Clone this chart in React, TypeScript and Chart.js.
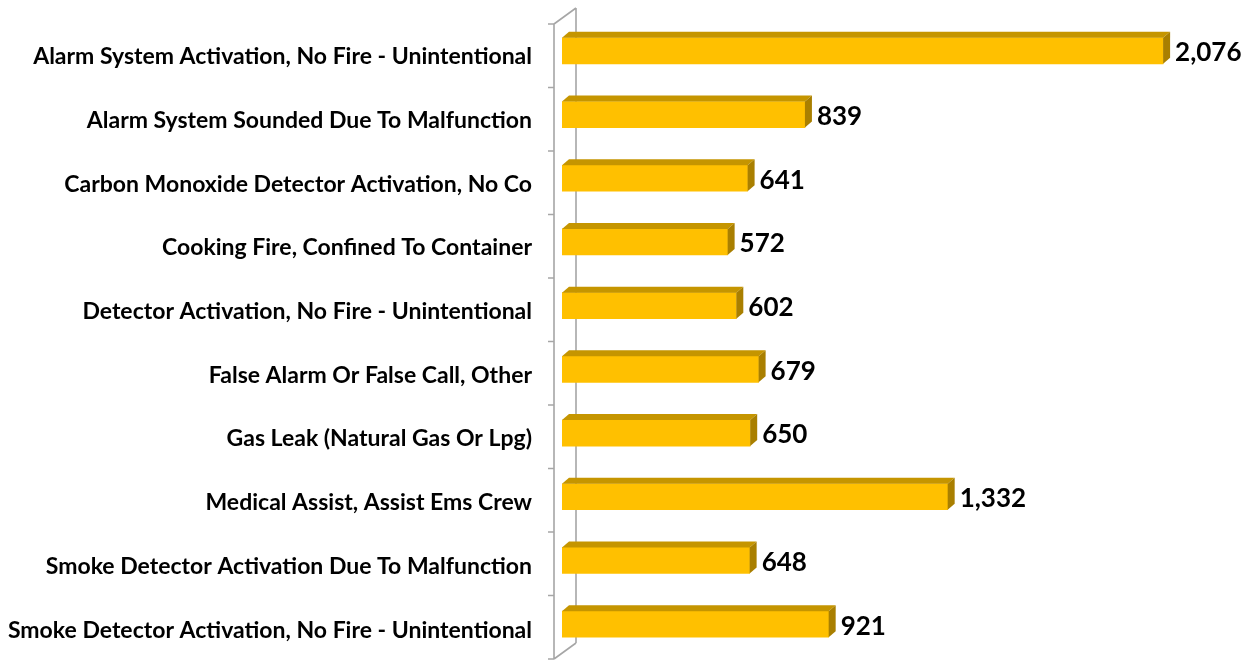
import React, { useEffect, useRef } from "react";
import { Chart, registerables } from "chart.js";

Chart.register(...registerables);

const categories: string[] = [
  "Alarm System Activation, No Fire - Unintentional",
  "Alarm System Sounded Due To Malfunction",
  "Carbon Monoxide Detector Activation, No Co",
  "Cooking Fire, Confined To Container",
  "Detector Activation, No Fire - Unintentional",
  "False Alarm Or False Call, Other",
  "Gas Leak (Natural Gas Or Lpg)",
  "Medical Assist, Assist Ems Crew",
  "Smoke Detector Activation Due To Malfunction",
  "Smoke Detector Activation, No Fire - Unintentional",
];

const counts: number[] = [2076, 839, 641, 572, 602, 679, 650, 1332, 648, 921];

const FRONT = "#FFC000";
const TOP = "#C59500";
const SIDE = "#A97F00";
const WALL = "#A6A6A6";
const DX = 7;
const DY = 6;
const FONT = "Lato, 'Open Sans', sans-serif";

const threeD = {
  id: "threeD",
  beforeDatasetsDraw(chart: any) {
    const { ctx, chartArea } = chart;
    const { left, top, bottom } = chartArea;
    const n = categories.length;
    const fx = left - 8;
    const bx = left + 14;
    const ft = top + 5;
    const fb = bottom + 3;
    ctx.save();
    ctx.strokeStyle = WALL;
    ctx.lineWidth = 1.6;
    ctx.beginPath();
    ctx.moveTo(fx, ft);
    ctx.lineTo(fx, fb);
    ctx.moveTo(bx, ft - 16);
    ctx.lineTo(bx, fb - 16);
    ctx.moveTo(fx, ft);
    ctx.lineTo(bx, ft - 16);
    ctx.moveTo(fx, fb);
    ctx.lineTo(bx, fb - 16);
    for (let k = 0; k <= n; k++) {
      const y = ft + k * ((fb - ft) / n);
      ctx.moveTo(fx - 6, y);
      ctx.lineTo(fx, y);
    }
    ctx.stroke();
    ctx.restore();
  },
  afterDatasetsDraw(chart: any) {
    const { ctx } = chart;
    const meta = chart.getDatasetMeta(0);
    ctx.save();
    meta.data.forEach((bar: any, i: number) => {
      const x0 = bar.base;
      const x1 = bar.x;
      const h = bar.height;
      const yt = bar.y - h / 2;
      const yb = bar.y + h / 2;
      ctx.fillStyle = TOP;
      ctx.beginPath();
      ctx.moveTo(x0, yt);
      ctx.lineTo(x0 + DX, yt - DY);
      ctx.lineTo(x1 + DX, yt - DY);
      ctx.lineTo(x1, yt);
      ctx.closePath();
      ctx.fill();
      ctx.fillStyle = SIDE;
      ctx.beginPath();
      ctx.moveTo(x1, yt);
      ctx.lineTo(x1 + DX, yt - DY);
      ctx.lineTo(x1 + DX, yb - DY);
      ctx.lineTo(x1, yb);
      ctx.closePath();
      ctx.fill();
      ctx.fillStyle = "#000";
      ctx.font = `bold 26px ${FONT}`;
      ctx.textAlign = "left";
      ctx.textBaseline = "middle";
      ctx.fillText(counts[i].toLocaleString("en-US"), x1 + DX + 5, bar.y + 2);
    });
    ctx.restore();
  },
};

export default function App() {
  const ref = useRef<HTMLCanvasElement>(null);
  useEffect(() => {
    if (!ref.current) return;
    const chart = new Chart(ref.current, {
      type: "bar",
      data: {
        labels: categories,
        datasets: [
          {
            data: counts,
            backgroundColor: FRONT,
            borderWidth: 0,
            barThickness: 26,
          },
        ],
      },
      plugins: [threeD],
      options: {
        indexAxis: "y",
        animation: false,
        responsive: false,
        maintainAspectRatio: false,
        layout: { padding: { top: 19, bottom: 4, right: 51, left: 0 } },
        plugins: { legend: { display: false }, tooltip: { enabled: false } },
        scales: {
          x: { display: false, min: 0, max: 2200 },
          y: {
            grid: { display: false, drawTicks: false },
            border: { display: false },
            ticks: {
              color: "#000",
              padding: 30,
              labelOffset: 6,
              font: { family: FONT, size: 23, weight: "bold" },
            },
            afterFit(scale: any) {
              scale.width = 562;
              scale.paddingTop = 0;
              scale.paddingBottom = 0;
            },
          },
        },
      },
    } as any);
    return () => chart.destroy();
  }, []);
  return (
    <div style={{ position: "fixed", left: 0, top: 0, width: 1250, height: 660, background: "#fff" }}>
      <canvas ref={ref} width={1250} height={660} />
    </div>
  );
}
